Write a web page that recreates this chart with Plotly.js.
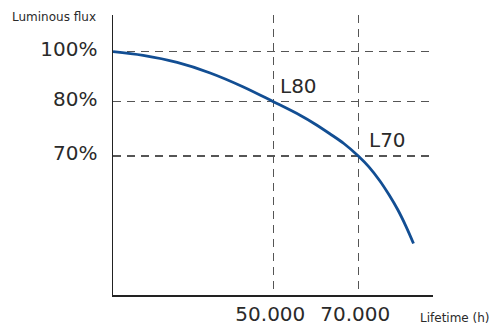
<!DOCTYPE html>
<html>
<head>
<meta charset="utf-8">
<script src="https://cdn.plot.ly/plotly-3.0.1.min.js"></script>
<style>html,body{margin:0;padding:0;background:#fff;}#chart{width:490px;height:324px;}</style>
</head>
<body>
<div id="chart"></div>
<script>
// ---- data ----
const lifetimeHours = [0, 9400, 20000, 30300, 40500, 50000, 56300, 59800, 63300, 66600, 70000, 72500, 75100, 77200, 79300, 81200, 83000];
const fluxPercent   = [100, 98.5, 95.7, 91.5, 86.0, 80, 77.5, 75.9, 74.1, 72.3, 70, 68.0, 65.4, 62.9, 60.1, 57.1, 53.9];
const lifetimeTicks = [50000, 70000];
const lifetimeTickText = ['50.000', '70.000'];
const fluxTicks = [100, 80, 70];
const fluxTickText = ['100%', '80%', '70%'];
const markerLabels = ['L80', 'L70'];
const markerHours = [50000, 70000];
const markerFlux = [80, 70];

// ---- schematic (piecewise-linear) axis scales of the original drawing ----
function piecewise(knotsIn, knotsOut) {
  return function (v) {
    let i = 0;
    while (i < knotsIn.length - 2 && v > knotsIn[i + 1]) i++;
    const a = knotsIn[i], b = knotsIn[i + 1];
    const t = (v - a) / (b - a);
    return knotsOut[i] + t * (knotsOut[i + 1] - knotsOut[i]);
  };
}
const xScale = piecewise([0, 50000, 70000], [0, 50.1, 76.65]);
const yScale = piecewise([70, 80, 100], [49.64, 69.04, 86.89]);

const curve = {
  x: lifetimeHours.map(xScale),
  y: fluxPercent.map(yScale),
  mode: 'lines',
  line: {color: '#124e93', width: 2.8, shape: 'spline', smoothing: 1},
  hoverinfo: 'skip',
  showlegend: false
};

const txtColor = '#2a2a2a';
const tickFont = {family: 'DejaVu Sans, sans-serif', size: 20, color: txtColor};
const smallFont = {family: 'DejaVu Sans, sans-serif', size: 12, color: txtColor};
const labelXShift = [5, 9];

const annotations = markerLabels.map((t, i) => ({
  x: xScale(markerHours[i]), y: yScale(markerFlux[i]), xref: 'x', yref: 'y',
  text: t, showarrow: false, xanchor: 'left', yanchor: 'bottom',
  xshift: labelXShift[i], yshift: 2, font: tickFont
}));
annotations.push({
  x: (98 - 113) / 320, y: 1, xref: 'paper', yref: 'paper', yanchor: 'middle', xanchor: 'right',
  text: 'Luminous flux', showarrow: false, yshift: -2, font: smallFont
});
annotations.push({
  x: (418 - 113) / 320, y: 0, xref: 'paper', yref: 'paper', showarrow: false,
  text: 'Lifetime (h)', xanchor: 'left', yanchor: 'middle', yshift: -23, font: smallFont
});

const layout = {
  width: 490, height: 324,
  margin: {l: 113, r: 57, t: 15, b: 29, pad: 0},
  paper_bgcolor: '#fff', plot_bgcolor: '#fff',
  xaxis: {
    range: [0, 100], showline: true, linecolor: '#222', linewidth: 1.5,
    tickvals: lifetimeTicks.map(xScale), ticktext: lifetimeTickText,
    ticks: '', tickfont: tickFont, ticklabelstandoff: 0, ticklabelshift: -3,
    showgrid: true, gridcolor: '#555', gridwidth: 1.2, griddash: '8px,6px',
    zeroline: false, fixedrange: true
  },
  yaxis: {
    range: [0, 100], showline: true, linecolor: '#222', linewidth: 1.5,
    tickvals: fluxTicks.map(yScale), ticktext: fluxTickText,
    ticks: '', tickfont: tickFont, ticklabelstandoff: 10, ticklabelshift: -3,
    showgrid: true, gridcolor: '#555', gridwidth: 1.2, griddash: '8px,6px',
    zeroline: false, fixedrange: true
  },
  annotations: annotations
};

Plotly.newPlot('chart', [curve], layout, {displayModeBar: false, staticPlot: true});
</script>
</body>
</html>
